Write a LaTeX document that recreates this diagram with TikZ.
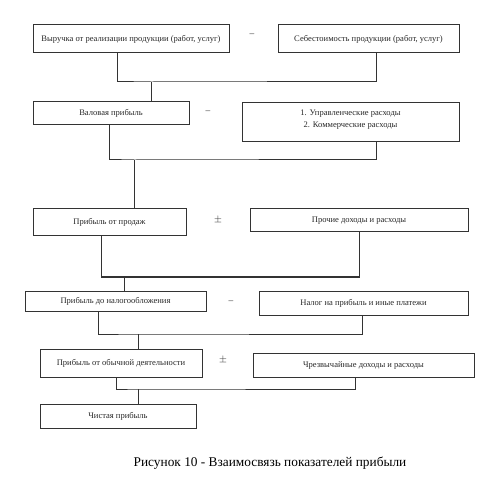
\documentclass[tikz,border=0pt]{standalone}
\usepackage{fontspec}
\setmainfont{Liberation Serif}
\usetikzlibrary{calc}

\begin{document}
\begin{tikzpicture}[x=0.75pt,y=0.75pt,yscale=-1,xscale=1,
  box/.style={draw=black!80,line width=0.75pt,inner sep=0.75pt,align=center,
    font=\fontsize{6.4}{8.5}\selectfont,text=black!85},
  op/.style={inner sep=0.75pt,font=\fontsize{7}{8}\selectfont,text=black!80},
  link/.style={draw=black!80,line width=0.75pt}]
\useasboundingbox (0,0) rectangle (503,495);

% Boxes
\node [box,minimum width=147pt,minimum height=21pt] (a1) at (131,39) {Выручка от реализации продукции (работ, услуг)};
\node [box,minimum width=135.75pt,minimum height=21pt] (b1) at (368.5,39) {Себестоимость продукции (работ, услуг)};
\node [box,minimum width=117pt,minimum height=17.25pt] (a2) at (111,113.5) {Валовая прибыль};
\node [box,minimum width=162.75pt,minimum height=29.25pt,anchor=north] (b2) at (350.5,102) {\\[-8pt]1. Управленческие расходы\\2. Коммерческие расходы};
\node [box,minimum width=114.75pt,minimum height=20.25pt] (a3) at (109.5,222.5) {Прибыль от продаж};
\node [box,minimum width=163.5pt,minimum height=17.25pt] (b3) at (359,220.5) {Прочие доходы и расходы};
\node [box,minimum width=135.75pt,minimum height=15pt] (a4) at (115.5,301) {Прибыль до налогообложения};
\node [box,minimum width=156.75pt,minimum height=18pt] (b4) at (363.5,303) {Налог на прибыль и иные платежи};
\node [box,minimum width=121.5pt,minimum height=21pt] (a5) at (121,363) {Прибыль от обычной деятельности};
\node [box,minimum width=165.75pt,minimum height=18pt] (b5) at (363.5,365) {Чрезвычайные доходы и расходы};
\node [box,minimum width=117pt,minimum height=18pt] (a6) at (118,416) {Чистая прибыль};

% Signs
\node [op] (op1) at (252,35) {--};
\node [op] (op2) at (208,112) {--};
\node [op] (op3) at (218,220) {$\pm$};
\node [op] (op4) at (231,302) {--};
\node [op] (op5) at (223,360) {$\pm$};

% Junctions
\coordinate (j1) at (151,82);
\coordinate (j2) at (134,160);
\coordinate (j3) at (124,277);
\coordinate (j4) at (138,334);
\coordinate (j5) at (138,389);

% Links
\draw [link] ($(a1.south)+(-14,0)$) |- (j1) -| ($(b1.south)+(7.5,0)$);
\draw [link] (j1) -- (j1 |- a2.north);
\draw [link] ($(a2.south)+(-2,0)$) |- (j2) -| ($(b2.south)+(25.5,0)$);
\draw [link] (j2) -- (j2 |- a3.north);
\draw [link] ($(a3.south)+(-8.5,0)$) |- (j3) -| (b3.south);
\draw [link] (j3) -- (j3 |- a4.north);
\draw [link] ($(a4.south)+(-17.5,0)$) |- (j4) -| ($(b4.south)+(-1.5,0)$);
\draw [link] (j4) -- (j4 |- a5.north);
\draw [link] ($(a5.south)+(-5,0)$) |- (j5) -| ($(b5.south)+(-8.5,0)$);
\draw [link] (j5) -- (j5 |- a6.north);

% Caption
\node [inner sep=0.75pt,font=\fontsize{10}{12}\selectfont] (cap) at (270,463) {Рисунок 10 - Взаимосвязь показателей прибыли};

\end{tikzpicture}
\end{document}
